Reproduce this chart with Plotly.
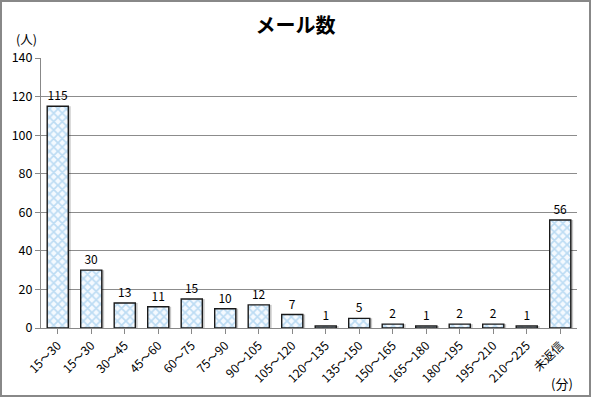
import plotly.graph_objects as go

categories = ["15～30", "15～30", "30～45", "45～60", "60～75", "75～90", "90～105", "105～120",
              "120～135", "135～150", "150～165", "165～180", "180～195", "195～210", "210～225", "未返信"]
values = [115, 30, 13, 11, 15, 10, 12, 7, 1, 5, 2, 1, 2, 2, 1, 56]
y_ticks = [0, 20, 40, 60, 80, 100, 120, 140]

xs = list(range(len(categories)))
W, H = 591, 397
ml, mr, mt, mb = 41, 14, 58, 69
pw, ph = W - ml - mr, H - mt - mb
bw = 0.63

font = "Noto Sans CJK JP, Noto Sans, sans-serif"

fig = go.Figure()
# soft shadow to the right of each bar
fig.add_trace(go.Bar(
    x=xs, y=values, width=bw, offset=-bw / 2 + 0.07,
    marker=dict(color="rgba(0,0,0,0.22)", line=dict(width=0)),
    hoverinfo="skip",
))
fig.add_trace(go.Bar(
    x=xs, y=values, width=bw,
    text=[str(v) for v in values], textposition="outside",
    textfont=dict(size=12, color="#000000", family=font),
    cliponaxis=False,
    marker=dict(
        color="#ffffff",
        line=dict(color="#1a1a1a", width=1.4),
        pattern=dict(shape="x", fgcolor="#84bde8", bgcolor="#f5faff", size=6, solidity=0.5),
    ),
))

fig.update_layout(
    width=W, height=H,
    margin=dict(l=ml, r=mr, t=mt, b=mb, autoexpand=False),
    paper_bgcolor="white", plot_bgcolor="white",
    showlegend=False,
    barmode="overlay",
    font=dict(family=font, size=12, color="#000000"),
    title=dict(text="<b>メール数</b>", x=0.5, xanchor="center", y=0.935, yanchor="middle",
               font=dict(size=20, family=font, color="#000000")),
    xaxis=dict(
        tickmode="array", tickvals=xs, ticktext=categories, tickangle=-45,
        range=[-0.5, len(xs) - 0.5], automargin=False,
        showline=True, linecolor="#888888", linewidth=1,
        ticks="outside", tickson="boundaries", ticklen=5, tickcolor="#888888",
        showgrid=False, tickfont=dict(size=12, family=font),
    ),
    yaxis=dict(
        range=[0, 140], tickvals=y_ticks, automargin=False,
        showline=True, linecolor="#888888", linewidth=1,
        ticks="outside", ticklen=5, tickcolor="#888888",
        showgrid=True, gridcolor="#8c8c8c", gridwidth=1,
        zeroline=False, tickfont=dict(size=12.5, family=font),
    ),
    annotations=[
        dict(text="(人)", xref="paper", yref="paper", x=-2 / pw, y=1 + 19 / ph,
             showarrow=False, xanchor="right", yanchor="middle", font=dict(size=12.5, family=font)),
        dict(text="(分)", xref="paper", yref="paper", x=1 - 2 / pw, y=-55 / ph,
             showarrow=False, xanchor="right", yanchor="middle", font=dict(size=13, family=font)),
    ],
    shapes=[
        dict(type="rect", xref="paper", yref="paper",
             x0=-(ml - 1) / pw, x1=1 + (mr - 1) / pw, y0=-(mb - 1) / ph, y1=1 + (mt - 1) / ph,
             line=dict(color="#888888", width=2), fillcolor="rgba(0,0,0,0)", layer="above"),
    ],
)

fig.write_html("out.html", config={"displayModeBar": False},
               post_script="document.body.style.margin='0';document.body.style.overflow='hidden';")
